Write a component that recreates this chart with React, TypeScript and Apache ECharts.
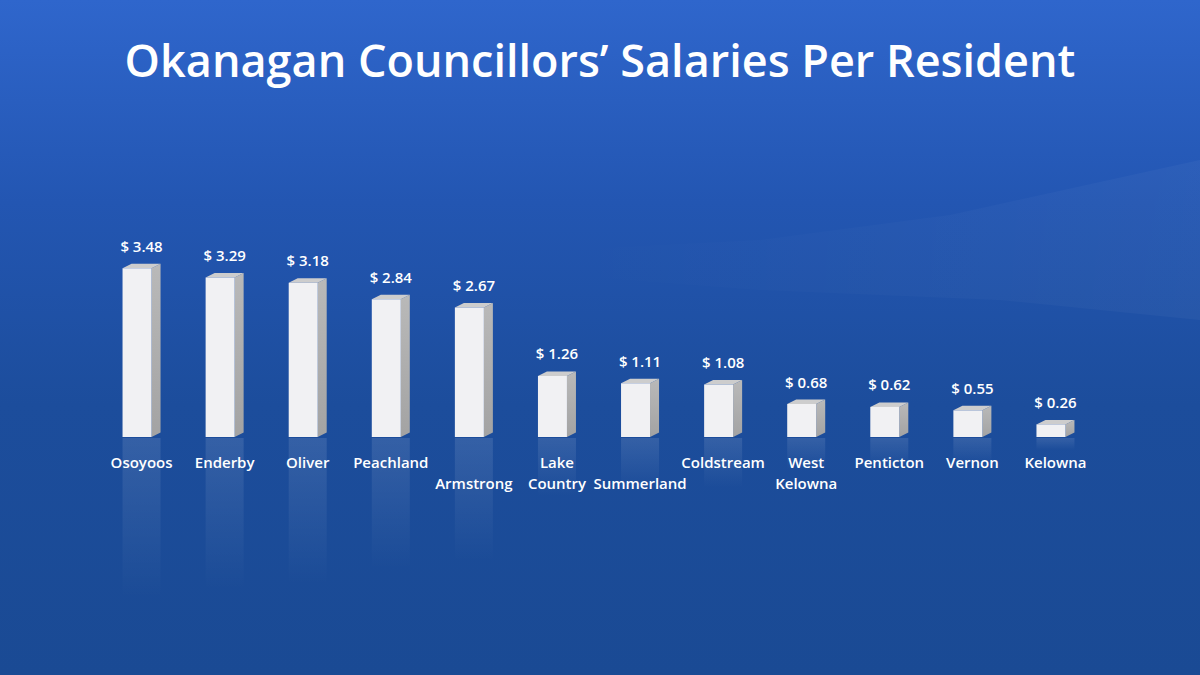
import { useEffect, useRef } from 'react'
import * as echarts from 'echarts'

const TITLE = 'Okanagan Councillors’ Salaries Per Resident'

const towns = [
  'Osoyoos',
  'Enderby',
  'Oliver',
  'Peachland',
  'Armstrong',
  'Lake Country',
  'Summerland',
  'Coldstream',
  'West Kelowna',
  'Penticton',
  'Vernon',
  'Kelowna',
]

// axis label text as it is broken over lines in the picture
const townLabels = [
  'Osoyoos',
  'Enderby',
  'Oliver',
  'Peachland',
  '\nArmstrong',
  'Lake\nCountry',
  '\nSummerland',
  'Coldstream',
  'West\nKelowna',
  'Penticton',
  'Vernon',
  'Kelowna',
]

const salaryPerResident = [3.48, 3.29, 3.18, 2.84, 2.67, 1.26, 1.11, 1.08, 0.68, 0.62, 0.55, 0.26]

const FONT = '"Open Sans", Lato, sans-serif'

export default function App() {
  const ref = useRef<HTMLDivElement>(null)

  useEffect(() => {
    if (!ref.current) {
      return
    }
    const chart = echarts.init(ref.current, undefined, { renderer: 'svg' })

    // 3D-looking box: front face, grey side, lighter top, faint reflection below
    const renderBox = (params: any, api: any) => {
      const v = api.value(1)
      const base = api.coord([api.value(0), 0])
      const top = api.coord([api.value(0), v])
      const fw = 29
      const d = 9
      const dy = 4.5
      const x0 = base[0] - (fw + d) / 2
      const x1 = x0 + fw
      const h = base[1] - top[1]
      return {
        type: 'group',
        children: [
          {
            type: 'rect',
            shape: { x: x0, y: base[1] + 1, width: fw + d, height: h * 0.95 },
            style: {
              fill: new echarts.graphic.LinearGradient(0, 0, 0, 1, [
                { offset: 0, color: 'rgba(255,255,255,0.11)' },
                { offset: 1, color: 'rgba(255,255,255,0)' },
              ]),
            },
          },
          {
            type: 'polygon',
            shape: {
              points: [
                [x1, top[1]],
                [x1 + d, top[1] - dy],
                [x1 + d, base[1] - dy],
                [x1, base[1]],
              ],
            },
            style: {
              fill: new echarts.graphic.LinearGradient(0, 0, 0, 1, [
                { offset: 0, color: '#b9b9b9' },
                { offset: 1, color: '#a3a3a3' },
              ]),
            },
          },
          {
            type: 'polygon',
            shape: {
              points: [
                [x0, top[1]],
                [x0 + d, top[1] - dy],
                [x1 + d, top[1] - dy],
                [x1, top[1]],
              ],
            },
            style: { fill: '#cdcdcd' },
          },
          {
            type: 'rect',
            shape: { x: x0, y: top[1], width: fw, height: h },
            style: { fill: '#f1f1f3' },
          },
          {
            type: 'text',
            x: x0 + (fw + d) / 2,
            y: top[1] - dy - 18,
            style: {
              text: '$ ' + v.toFixed(2),
              fill: '#ffffff',
              font: '600 15px ' + FONT,
              align: 'center',
              verticalAlign: 'middle',
            },
          },
        ],
      }
    }

    chart.setOption({
      animation: false,
      backgroundColor: new echarts.graphic.LinearGradient(0, 0, 0, 1, [
        { offset: 0, color: '#2f66cc' },
        { offset: 0.3, color: '#2356b2' },
        { offset: 0.6, color: '#1c4d9c' },
        { offset: 1, color: '#1a4a94' },
      ]),
      title: {
        text: TITLE,
        left: 'center',
        top: 32,
        textStyle: {
          color: '#ffffff',
          fontFamily: FONT,
          fontWeight: 600,
          fontSize: 45,
        },
      },
      graphic: [
        {
          type: 'polygon',
          silent: true,
          z: -10,
          shape: {
            points: [
              [560, 250],
              [760, 240],
              [950, 215],
              [1200, 160],
              [1200, 320],
              [1000, 300],
              [760, 290],
              [560, 275],
            ],
          },
          style: {
            fill: new echarts.graphic.LinearGradient(0, 0, 1, 0, [
              { offset: 0, color: 'rgba(255,255,255,0)' },
              { offset: 1, color: 'rgba(255,255,255,0.035)' },
            ]),
          },
        },
      ],
      grid: { left: 100, right: 103, top: 243, bottom: 238 },
      xAxis: {
        type: 'category',
        data: towns,
        axisLine: { show: false },
        axisTick: { show: false },
        axisLabel: {
          color: '#ffffff',
          fontFamily: FONT,
          fontWeight: 600,
          fontSize: 15,
          lineHeight: 21,
          margin: 14,
          interval: 0,
          verticalAlign: 'top',
          formatter: (_: string, i: number) => townLabels[i],
        },
      },
      yAxis: {
        type: 'value',
        min: 0,
        max: 4,
        show: false,
      },
      series: [
        {
          type: 'custom',
          renderItem: renderBox,
          encode: { x: 0, y: 1 },
          data: salaryPerResident.map((v, i) => [i, v]),
        },
      ],
    })

    return () => {
      chart.dispose()
    }
  }, [])

  return (
    <div
      ref={ref}
      style={{ position: 'fixed', left: 0, top: 0, width: 1200, height: 675 }}
    />
  )
}
